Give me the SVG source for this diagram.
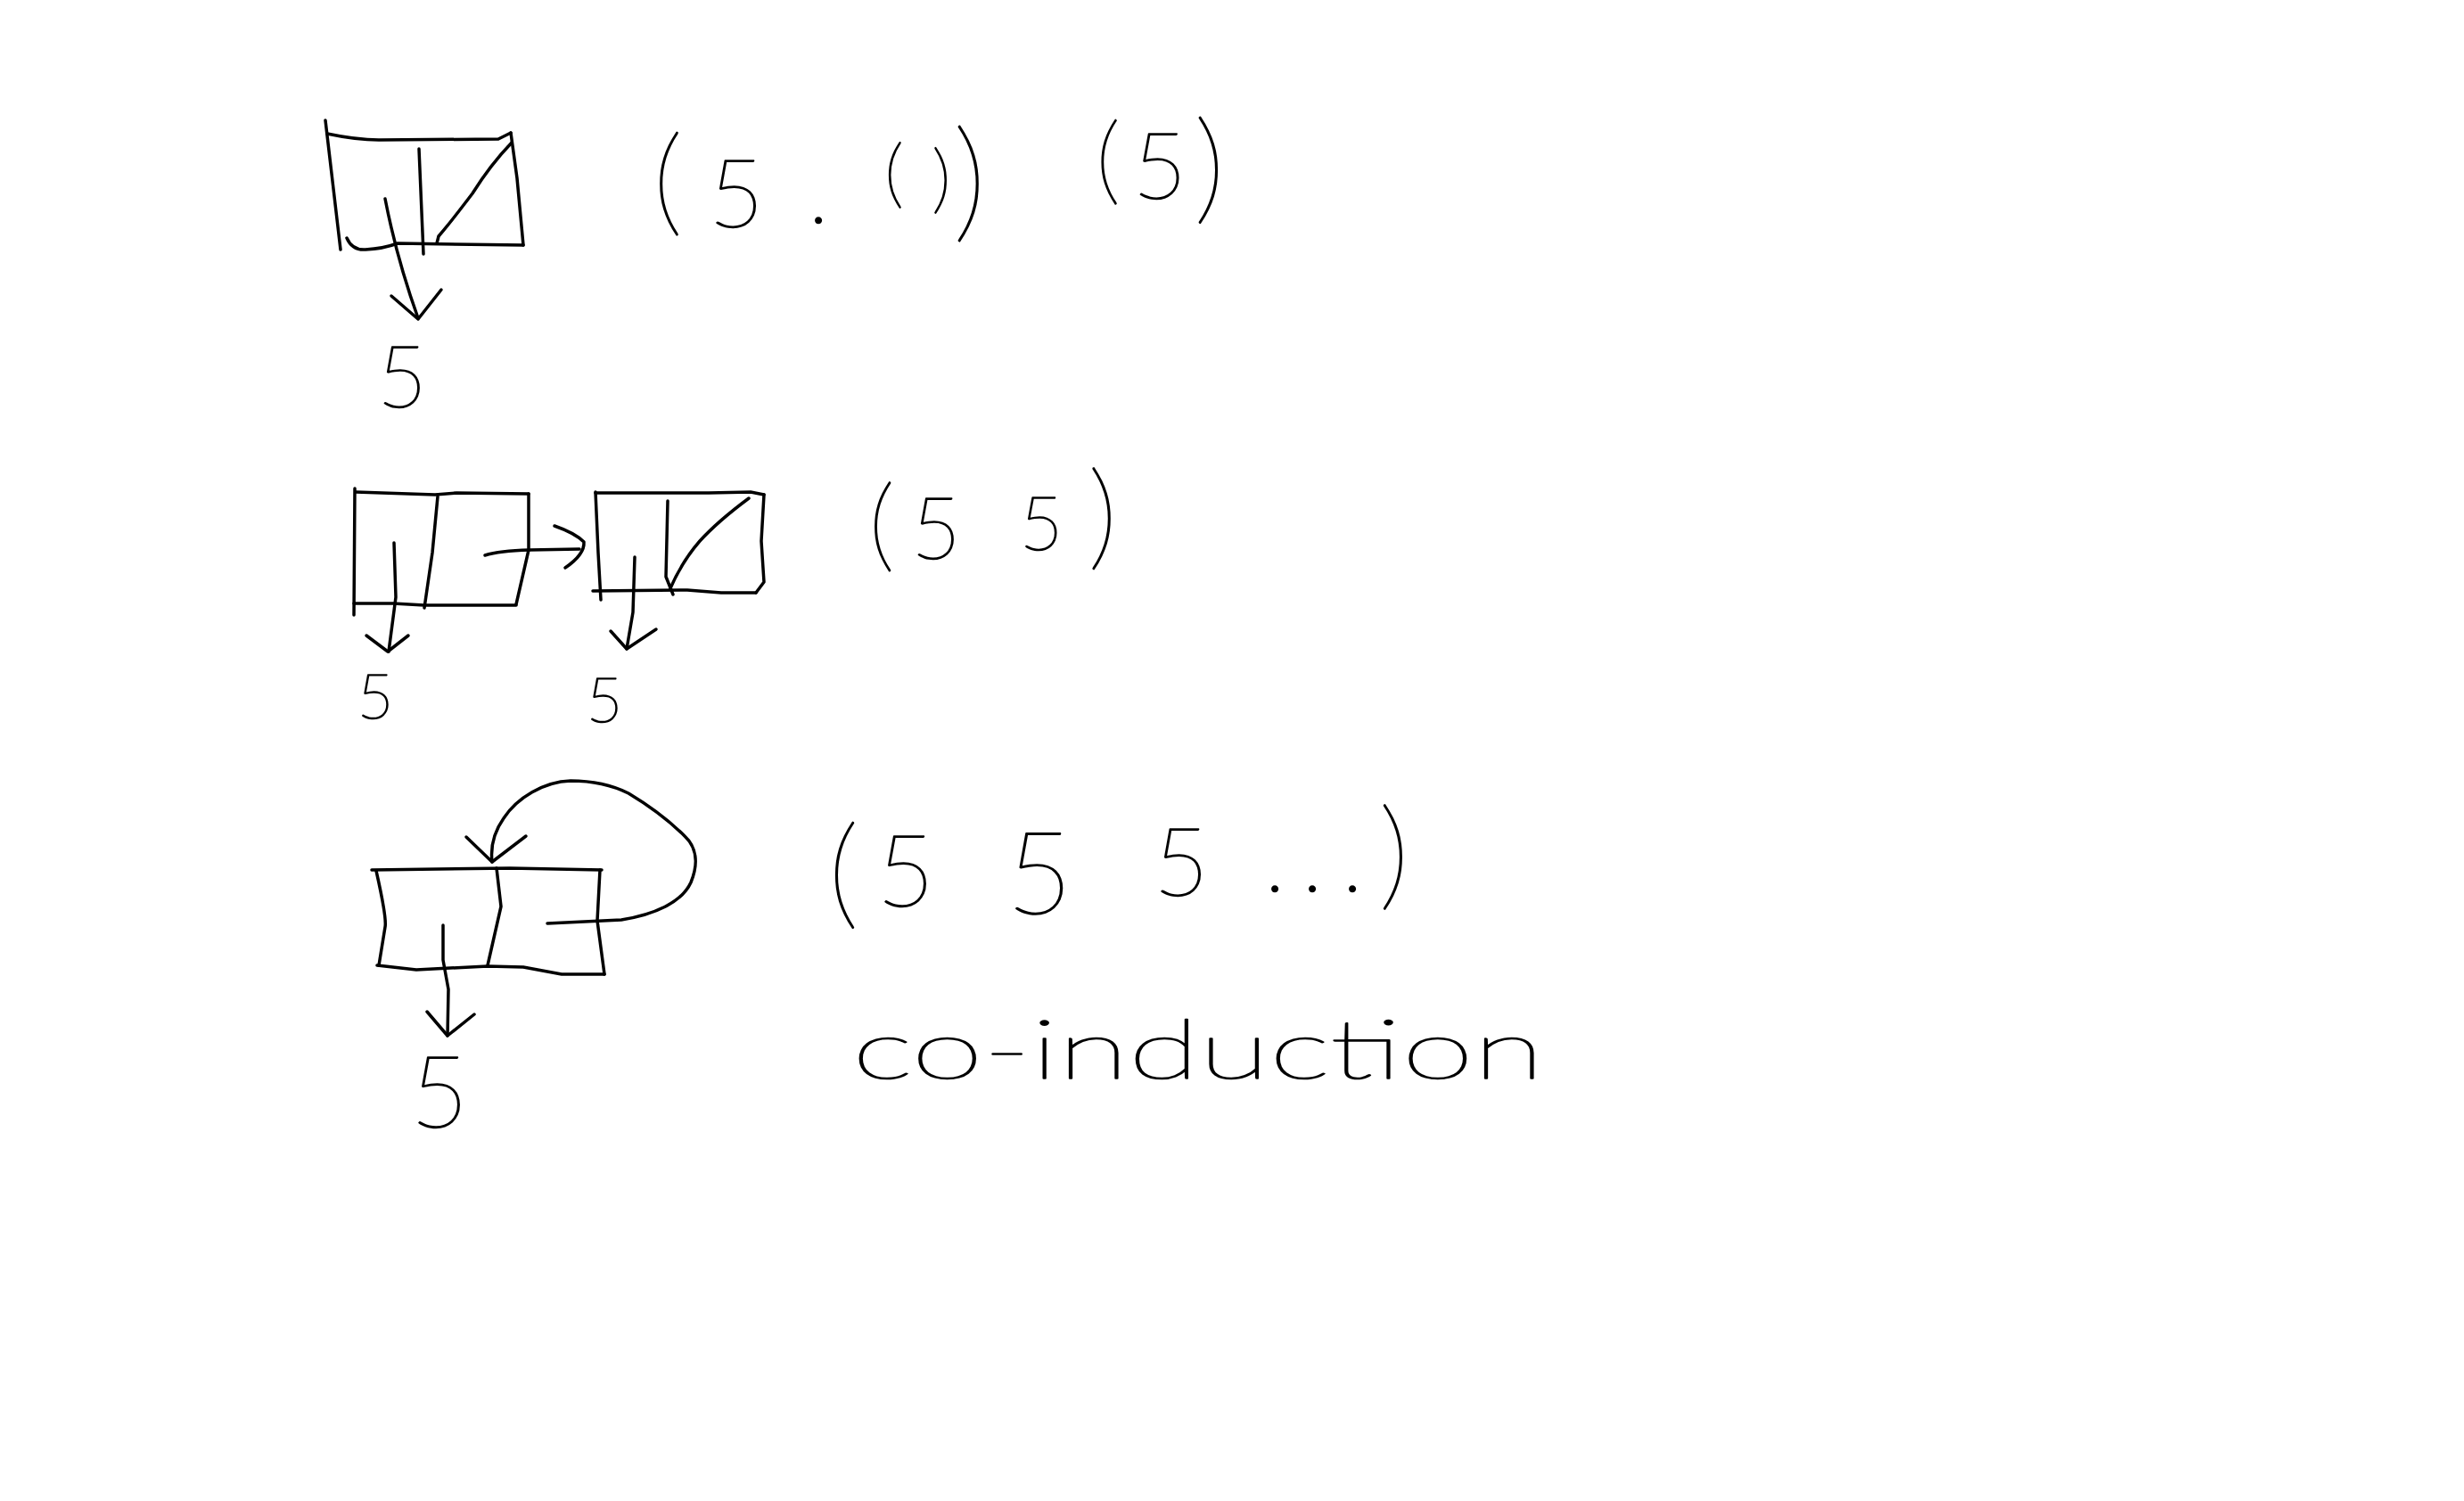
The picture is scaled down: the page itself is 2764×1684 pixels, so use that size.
<svg xmlns="http://www.w3.org/2000/svg" width="2764" height="1684" viewBox="0 0 2764 1684">
<style>
.s{fill:none;stroke:#000;stroke-width:3.5;stroke-linecap:round;stroke-linejoin:round}
.h,.w{font-family:Lato,"Open Sans","Liberation Sans",sans-serif;font-weight:100;fill:#000;stroke:#000;stroke-width:1.6;stroke-linejoin:round}
.h{text-anchor:middle}
</style>
<rect width="2764" height="1684" fill="#fff"/>
<g id="cell1">
<path class="s" d="M365,135 L382,280"/>
<path class="s" d="M367,150 Q400,157 425,157 L559,156 L573,149"/>
<path class="s" d="M573,149 L580,200 L587,275"/>
<path class="s" d="M389,267 Q395,281 410,280 Q430,279 446,273 L587,275"/>
<path class="s" d="M470,167 L475,285"/>
<path class="s" d="M574,160 Q550,185 530,217 Q505,250 492,265 L490,273"/>
</g>
<g id="cell2a">
<path class="s" d="M398,548 L397,690"/>
<path class="s" d="M399,552 L488,555 L512,553 L593,554"/>
<path class="s" d="M593,554 L593,617 L579,678"/>
<path class="s" d="M397,677 L441,677 L476,679 L579,679"/>
<path class="s" d="M491,557 L485,620 L476,682"/>
</g>
<g id="cell2b">
<path class="s" d="M668,552 L671,620 L674,673"/>
<path class="s" d="M668,553 L795,553 L842,552 L857,555"/>
<path class="s" d="M857,555 L854,607 L857,653 L848,665"/>
<path class="s" d="M665,663 L771,662 L809,665 L848,665"/>
<path class="s" d="M749,562 L747,647 L755,667"/>
<path class="s" d="M840,559 Q805,585 785,607 Q765,630 752,660"/>
</g>
<g id="cell3">
<path class="s" d="M417,976 L572,974 L675,976"/>
<path class="s" d="M422,977 Q434,1030 432,1040 L425,1083"/>
<path class="s" d="M423,1083 L467,1088 L547,1084 L587,1085 L630,1093 L678,1093"/>
<path class="s" d="M673,976 L670,1033 L678,1093"/>
<path class="s" d="M557,974 L562,1017 L547,1083"/>
</g>
<g id="connectors">
<path class="s" d="M432,223 Q445,290 469,357"/>
<path class="s" d="M439,332 L469,358 L495,325"/>
<path class="s" d="M442,609 L444,670 L436,731"/>
<path class="s" d="M411,713 L435,731 L458,713"/>
<path class="s" d="M544,623 Q560,618 594,617 L650,616"/>
<path class="s" d="M622,590 Q645,598 655,608 Q656,622 634,637"/>
<path class="s" d="M712,625 L710,687 L703,728"/>
<path class="s" d="M685,708 L703,728 L736,706"/>
<path class="s" d="M497,1038 L497,1077 L503,1110 L502,1162"/>
<path class="s" d="M479,1135 L502,1162 L532,1138"/>
<path class="s" d="M614,1036 L697,1032 C735,1026 765,1012 775,990 C784,968 781,950 768,938 C750,920 730,905 705,890 C685,880 660,876 640,876 C610,877 580,895 565,918 C553,935 550,950 552,967"/>
<path class="s" d="M523,939 L552,967 L590,938"/>
</g>
<g id="labels">
<text class="h" x="451" y="457" font-size="96">5</text>
<text class="h" x="421" y="806" font-size="70">5</text>
<text class="h" x="678" y="810" font-size="70">5</text>
<text class="h" x="493" y="1265" font-size="112">5</text>
<text class="h"><tspan x="749" y="248" font-size="132">(</tspan><tspan x="826" y="255" font-size="107">5</tspan><tspan x="918" y="250" font-size="100">.</tspan><tspan x="1003" y="223" font-size="85">(</tspan><tspan x="1056" y="229" font-size="84">)</tspan><tspan x="1088" y="253" font-size="149">)</tspan></text>
<text class="h"><tspan x="1243" y="216" font-size="109">(</tspan><tspan x="1301" y="223" font-size="105">5</tspan><tspan x="1357" y="234" font-size="137">)</tspan></text>
<text class="h"><tspan x="989" y="627" font-size="115">(</tspan><tspan x="1050" y="627" font-size="96">5</tspan><tspan x="1168" y="617" font-size="84">5</tspan><tspan x="1237" y="623" font-size="130">)</tspan></text>
<text class="h"><tspan x="946" y="1025" font-size="136">(</tspan><tspan x="1016" y="1017" font-size="112">5</tspan><tspan x="1166" y="1025" font-size="128">5</tspan><tspan x="1325" y="1005" font-size="107">5</tspan><tspan x="1430 1472 1517" y="1000" font-size="100">...</tspan><tspan x="1564" y="1004" font-size="135">)</tspan></text>
<text class="w" x="956" y="1210" font-size="92" textLength="776" lengthAdjust="spacingAndGlyphs">co-induction</text>
</g>
</svg>
